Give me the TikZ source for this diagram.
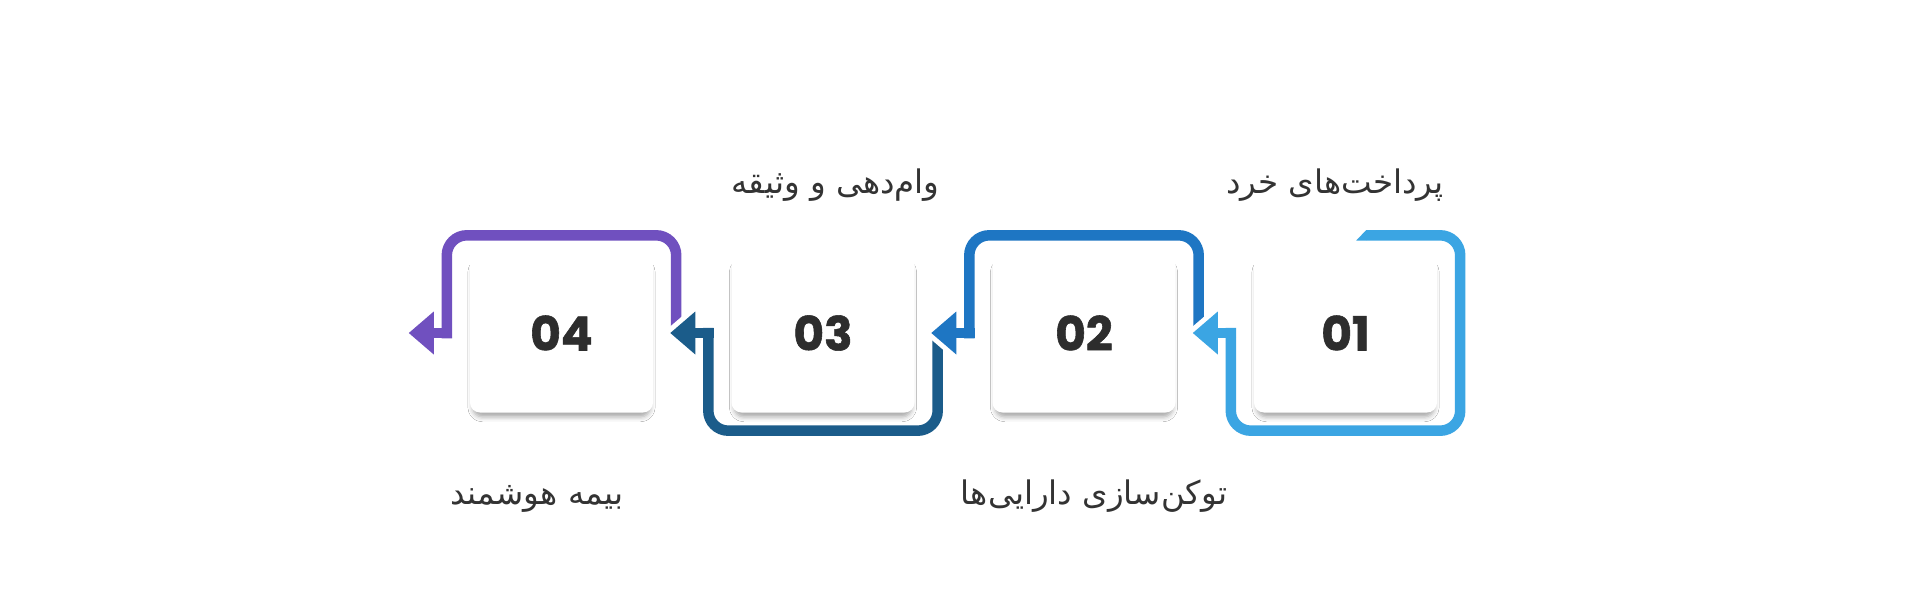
\documentclass[tikz,border=0pt]{standalone}
\usepackage{fontspec}
\newfontfamily\arabicfont[Script=Arabic]{DejaVu Sans}
\newfontfamily\numfont{Poppins}[FakeBold=1.2]
\TeXXeTstate=1
\usetikzlibrary{shadows.blur}
\definecolor{azzurro}{HTML}{3BA5E3}
\definecolor{blu}{HTML}{1E76C3}
\definecolor{bluscuro}{HTML}{1B5C8A}
\definecolor{viola}{HTML}{7050BF}
\definecolor{testo}{HTML}{333333}
\definecolor{cifre}{HTML}{2D2D2D}
\begin{document}
\begin{tikzpicture}[x=1pt,y=-1pt,
    card/.style={fill=white, rounded corners=10pt, minimum width=183pt, minimum height=159pt, inner sep=0pt,
        text=cifre, font=\numfont\bfseries\fontsize{47}{47}\selectfont,
        blur shadow={shadow xshift=0pt, shadow yshift=-7pt, shadow scale=0.97, shadow blur radius=5pt, shadow opacity=35}},
    didascalia/.style={anchor=base, text=testo, font=\arabicfont\fontsize{32.5}{38}\selectfont},
    freccia/.style={line width=10.5pt, rounded corners=20pt},
    stelo/.style={line width=10.5pt},
    alone/.style={white, line width=10pt, line cap=round, line join=round}]
    \useasboundingbox (0,0) rectangle (1920,605);
    \fill[white] (0,0) rectangle (1920,605);

    % Schede numerate
    \node[card](c1) at (1345.5,333) {01};
    \node[card](c2) at (1084,333) {02};
    \node[card](c3) at (823,333) {03};
    \node[card](c4) at (561.5,333) {04};

    % Frecce attorno alle schede
    \draw[freccia, azzurro] ([shift={(-71,-18)}]c1.north east) -- ([shift={(23,-18)}]c1.north east)
        -- ([shift={(23,18)}]c1.south east) -- ([shift={(-23,18)}]c1.south west) -- ([shift={(-23,-5.25)}]c1.west);
    \fill[azzurro] ([shift={(-71,-23.25)}]c1.north east) -- ([shift={(-71,-12.75)}]c1.north east)
        -- ([shift={(-81,-12.75)}]c1.north east) -- cycle;
    \draw[stelo, azzurro] ([shift={(-17.75,0)}]c1.west) -- ([shift={(-38,0)}]c1.west);

    \draw[freccia, blu] ([shift={(23,0)}]c2.east) -- ([shift={(23,-18)}]c2.north east)
        -- ([shift={(-23,-18)}]c2.north west) -- ([shift={(-23,5.25)}]c2.west);
    \draw[stelo, blu] ([shift={(-17.75,0)}]c2.west) -- ([shift={(-38,0)}]c2.west);

    \draw[freccia, bluscuro] ([shift={(23,0)}]c3.east) -- ([shift={(23,18)}]c3.south east)
        -- ([shift={(-23,18)}]c3.south west) -- ([shift={(-23,-5.25)}]c3.west);
    \draw[stelo, bluscuro] ([shift={(-17.75,0)}]c3.west) -- ([shift={(-38,0)}]c3.west);

    \draw[freccia, viola] ([shift={(23,0)}]c4.east) -- ([shift={(23,-18)}]c4.north east)
        -- ([shift={(-23,-18)}]c4.north west) -- ([shift={(-23,5.25)}]c4.west);
    \draw[stelo, viola] ([shift={(-17.75,0)}]c4.west) -- ([shift={(-38,0)}]c4.west);

    % Punte delle frecce
    \coordinate (p1) at ([xshift=-61pt]c1.west);
    \coordinate (p2) at ([xshift=-61pt]c2.west);
    \coordinate (p3) at ([xshift=-61pt]c3.west);
    \coordinate (p4) at ([xshift=-61pt]c4.west);
    \draw[alone] ([shift={(25,-21.5)}]p1) -- (p1) -- ([shift={(25,21.5)}]p1);
    \fill[azzurro] (p1) -- ++(25,-21.5) -- ++(0,43) -- cycle;
    \draw[alone] ([shift={(25,-21.5)}]p2) -- (p2) -- ([shift={(25,21.5)}]p2);
    \fill[blu] (p2) -- ++(25,-21.5) -- ++(0,43) -- cycle;
    \draw[alone] ([shift={(25,-21.5)}]p3) -- (p3) -- ([shift={(25,21.5)}]p3);
    \fill[bluscuro] (p3) -- ++(25,-21.5) -- ++(0,43) -- cycle;
    \fill[viola] (p4) -- ++(25,-21.5) -- ++(0,43) -- cycle;

    % Didascalie
    \node[didascalia](l1) at (1335,193) {\beginR پرداخت^^^^200cهای خرد\endR};
    \node[didascalia](l2) at (1094,504) {\beginR توکن^^^^200cسازی دارایی^^^^200cها\endR};
    \node[didascalia](l3) at (835.5,193) {\beginR وام^^^^200cدهی و وثیقه\endR};
    \node[didascalia](l4) at (537,504) {\beginR بیمه هوشمند\endR};
\end{tikzpicture}
\end{document}
